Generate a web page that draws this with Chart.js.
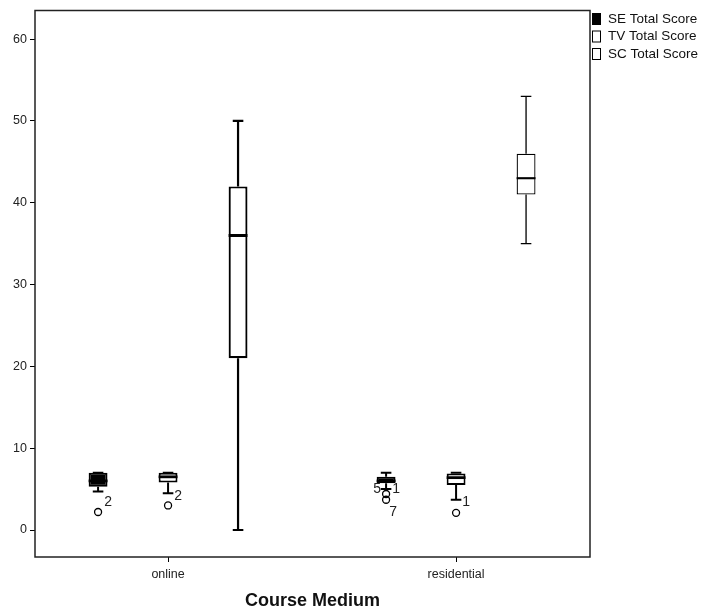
<!DOCTYPE html>
<html lang="en">
<head>
  <meta charset="UTF-8">
  <title>Course Medium boxplot</title>
  <script src="https://cdn.jsdelivr.net/npm/chart.js"></script>
  <style>
    body { margin: 0; background: #fff; }
    canvas { display: block; }
  </style>
</head>
<body>
  <canvas id="boxChart" width="702" height="613"></canvas>
  <script>
    // categories + series
    const categories = ['online', 'residential'];
    const seriesNames = ['SE Total Score', 'TV Total Score', 'SC Total Score'];

    // five-number summaries per group (online, residential)
    const seLow = [4.7, 5.0], seQ1 = [5.3, 5.7], seMed = [6.0, 6.0], seQ3 = [7.0, 6.5], seHigh = [7.0, 7.0];
    const tvLow = [4.5, 3.7], tvQ1 = [5.8, 5.5], tvMed = [6.5, 6.4], tvQ3 = [7.0, 6.9], tvHigh = [7.0, 7.0];
    const scLow = [0, 35], scQ1 = [21, 41], scMed = [36, 43], scQ3 = [42, 46], scHigh = [50, 53];

    // outliers
    const outlierSeries = [0, 1, 0, 0, 1];
    const outlierGroup = [0, 0, 1, 1, 1];
    const outlierValues = [2.2, 3.0, 4.4, 3.7, 2.1];
    const outlierCases = ['2', '2', '5 1', '7', '1'];

    const yTicks = [0, 10, 20, 30, 40, 50, 60];

    const lows = [seLow, tvLow, scLow];
    const q1s = [seQ1, tvQ1, scQ1];
    const meds = [seMed, tvMed, scMed];
    const q3s = [seQ3, tvQ3, scQ3];
    const highs = [seHigh, tvHigh, scHigh];
    const fills = ['#000000', '#ffffff', '#ffffff'];

    // line weights per series/group (SPSS drew residential SC thinner)
    const lineW = [[2, 2], [2, 2], [2.2, 1.3]];
    // where the case numbers sit relative to each outlier circle
    const labelOffsets = [[[10, -10]], [[10, -9]], [[-9, -5], [10, -5]], [[7, 12]], [[10, -11]]];

    const FONT = 'Liberation Sans, Arial, sans-serif';

    const boxExtras = {
      id: 'boxExtras',
      beforeDatasetsDraw(chart) {
        const a = chart.chartArea, ctx = chart.ctx;
        ctx.save();
        ctx.strokeStyle = '#222';
        ctx.lineWidth = 1.5;
        ctx.strokeRect(a.left, a.top, a.right - a.left, a.bottom - a.top);
        ctx.restore();
      },
      afterDatasetsDraw(chart) {
        const ctx = chart.ctx, y = chart.scales.y;
        ctx.save();
        ctx.strokeStyle = '#000';
        for (let s = 0; s < seriesNames.length; s++) {
          const meta = chart.getDatasetMeta(s);
          meta.data.forEach((el, g) => {
            const x = el.x, half = el.width / 2, cap = el.width * 0.28;
            ctx.lineWidth = lineW[s][g];
            ctx.beginPath();
            // whiskers
            ctx.moveTo(x, y.getPixelForValue(q3s[s][g]));
            ctx.lineTo(x, y.getPixelForValue(highs[s][g]));
            ctx.moveTo(x, y.getPixelForValue(q1s[s][g]));
            ctx.lineTo(x, y.getPixelForValue(lows[s][g]));
            // caps
            ctx.moveTo(x - cap, y.getPixelForValue(highs[s][g]));
            ctx.lineTo(x + cap, y.getPixelForValue(highs[s][g]));
            ctx.moveTo(x - cap, y.getPixelForValue(lows[s][g]));
            ctx.lineTo(x + cap, y.getPixelForValue(lows[s][g]));
            ctx.stroke();
            // median
            ctx.lineWidth = lineW[s][g] + 0.8;
            ctx.beginPath();
            ctx.moveTo(x - half, y.getPixelForValue(meds[s][g]));
            ctx.lineTo(x + half, y.getPixelForValue(meds[s][g]));
            ctx.stroke();
          });
        }
        // outliers
        ctx.font = '14px ' + FONT;
        ctx.fillStyle = '#222';
        ctx.textAlign = 'center';
        ctx.textBaseline = 'middle';
        outlierValues.forEach((v, k) => {
          const el = chart.getDatasetMeta(outlierSeries[k]).data[outlierGroup[k]];
          const px = el.x, py = y.getPixelForValue(v);
          ctx.lineWidth = 1.3;
          ctx.beginPath();
          ctx.arc(px, py, 3.5, 0, Math.PI * 2);
          ctx.stroke();
          outlierCases[k].split(' ').forEach((lab, i) => {
            const off = labelOffsets[k][i];
            ctx.fillText(lab, px + off[0], py + off[1]);
          });
        });
        ctx.restore();
      },
      afterDraw(chart) {
        // legend, top right outside the frame
        const ctx = chart.ctx;
        ctx.save();
        ctx.font = '13.5px ' + FONT;
        ctx.textBaseline = 'middle';
        ctx.textAlign = 'left';
        seriesNames.forEach((name, i) => {
          const cy = 19 + i * 17.5;
          ctx.fillStyle = fills[i];
          ctx.fillRect(592.5, cy - 5.5, 8, 11);
          ctx.strokeStyle = '#000';
          ctx.lineWidth = 1;
          ctx.strokeRect(592.5, cy - 5.5, 8, 11);
          ctx.fillStyle = '#111';
          ctx.fillText(name, 608, cy);
        });
        ctx.restore();
      }
    };

    const datasets = seriesNames.map((name, s) => ({
      label: name,
      data: categories.map((c, g) => ({ x: g + 1, y: [q1s[s][g], q3s[s][g]] })),
      backgroundColor: fills[s],
      borderColor: '#000',
      borderWidth: lineW[s],
      borderSkipped: false,
      categoryPercentage: 0.729,
      barPercentage: 0.27
    }));

    new Chart(document.getElementById('boxChart'), {
      type: 'bar',
      data: { datasets },
      options: {
        responsive: false,
        animation: false,
        layout: { padding: { top: 10, right: 112, left: 0, bottom: 0 } },
        plugins: { legend: { display: false }, tooltip: { enabled: false } },
        scales: {
          x: {
            type: 'linear',
            min: 0.538,
            max: 2.465,
            offset: false,
            afterBuildTicks: (scale) => { scale.ticks = categories.map((c, i) => ({ value: i + 1 })); },
            afterFit: (scale) => { scale.height = 56; },
            ticks: {
              callback: (v) => categories[v - 1],
              color: '#222',
              font: { family: FONT, size: 12.5 },
              padding: 5,
              maxRotation: 0
            },
            grid: { offset: false, drawOnChartArea: false, drawTicks: true, tickLength: 5, color: '#000' },
            border: { display: false },
            title: {
              display: true,
              text: 'Course Medium',
              color: '#111',
              font: { family: FONT, size: 18, weight: 'bold' },
              padding: { top: 0, bottom: 1 }
            }
          },
          y: {
            min: -3.3,
            max: 63.5,
            afterBuildTicks: (scale) => { scale.ticks = yTicks.map(v => ({ value: v })); },
            afterFit: (scale) => { scale.width = 35; },
            ticks: { color: '#222', font: { family: FONT, size: 12.5 }, padding: 3 },
            grid: { drawOnChartArea: false, drawTicks: true, tickLength: 5, color: '#000' },
            border: { display: false }
          }
        }
      },
      plugins: [boxExtras]
    });
  </script>
</body>
</html>
